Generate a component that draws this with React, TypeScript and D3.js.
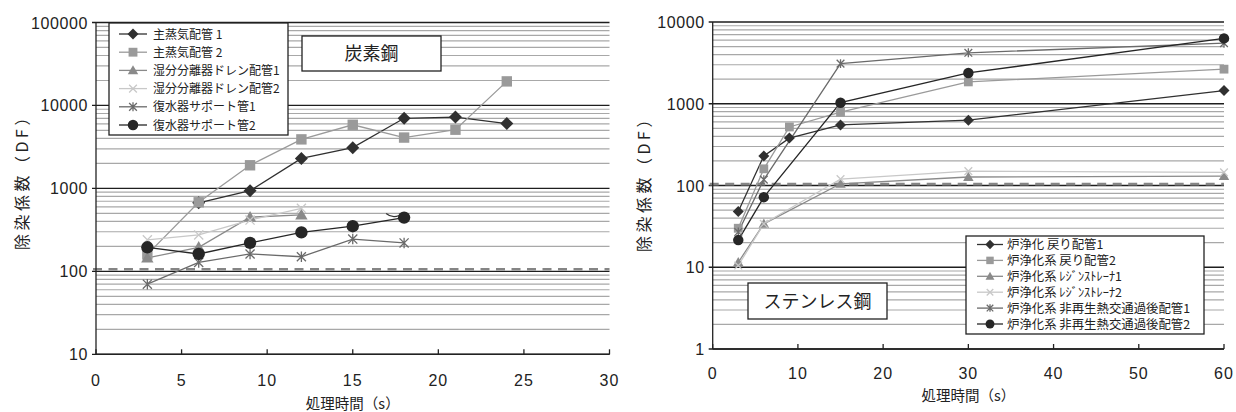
import React from 'react';
import * as d3 from 'd3';

// ---------- Left panel (炭素鋼) ----------
const csTimes = [3, 6, 9, 12, 15, 18, 21, 24];
const csMain1 = [null, 670, 940, 2300, 3100, 7000, 7250, 6050];
const csMain2 = [160, 680, 1900, 3900, 5850, 4100, 5100, 19500];
const csWet1 = [145, 195, 450, 480, null, null, null, null];
const csWet2 = [240, 275, 415, 575, null, null, null, null];
const csCond1 = [70, 128, 162, 150, 245, 220, null, null];
const csCond2 = [195, 162, 220, 295, 350, 445, null, null];
const csNames = ['主蒸気配管 1', '主蒸気配管 2', '湿分分離器ドレン配管1', '湿分分離器ドレン配管2', '復水器サポート管1', '復水器サポート管2'];
const csXTicks = [0, 5, 10, 15, 20, 25, 30];
const csYTicks = [10, 100, 1000, 10000, 100000];

// ---------- Right panel (ステンレス鋼) ----------
const ssTimes = [3, 6, 9, 15, 30, 60];
const ssRet1 = [48, 230, 380, 550, 630, 1450];
const ssRet2 = [30, 160, 520, 790, 1850, 2650];
const ssRes1 = [11.5, 34, null, 105, 127, 130];
const ssRes2 = [10.5, 34, null, 120, 150, 145];
const ssHx1 = [27, 118, null, 3100, 4200, 5500];
const ssHx2 = [21.5, 72, null, 1030, 2380, 6300];
const ssNames = ['炉浄化 戻り配管1', '炉浄化系 戻り配管2', '炉浄化系 ﾚｼﾞﾝｽﾄﾚｰﾅ1', '炉浄化系 ﾚｼﾞﾝｽﾄﾚｰﾅ2', '炉浄化系 非再生熱交通過後配管1', '炉浄化系 非再生熱交通過後配管2'];
const ssXTicks = [0, 10, 20, 30, 40, 50, 60];
const ssYTicks = [1, 10, 100, 1000, 10000];

const thresholdLeft = 106;
const thresholdRight = 104;

const markerTypes = ['diamond', 'square', 'triangle', 'x', 'asterisk', 'circle'];
const seriesColors = ['#303030', '#9a9a9a', '#8a8a8a', '#c8c8c8', '#6a6a6a', '#262626'];

const NUM_FONT = '"Liberation Sans", Arial, "Noto Sans CJK JP", sans-serif';
const JP_FONT = '"Noto Sans CJK JP", "Liberation Sans", sans-serif';

function Marker({ type, x, y, s, color }: { type: string; x: number; y: number; s: number; color: string }) {
  switch (type) {
    case 'diamond':
      return <path d={`M${x},${y - s}L${x + s},${y}L${x},${y + s}L${x - s},${y}Z`} fill={color} />;
    case 'square': {
      const h = s * 0.8;
      return <rect x={x - h} y={y - h} width={2 * h} height={2 * h} fill={color} />;
    }
    case 'triangle': {
      const h = s * 0.95;
      return <path d={`M${x},${y - h}L${x + h},${y + h * 0.75}L${x - h},${y + h * 0.75}Z`} fill={color} />;
    }
    case 'x': {
      const h = s * 0.7;
      return <path d={`M${x - h},${y - h}L${x + h},${y + h}M${x - h},${y + h}L${x + h},${y - h}`} stroke={color} strokeWidth={1.3} fill="none" />;
    }
    case 'asterisk': {
      const h = s * 0.7;
      return <path d={`M${x - h},${y - h}L${x + h},${y + h}M${x - h},${y + h}L${x + h},${y - h}M${x},${y - h * 1.15}L${x},${y + h * 1.15}`} stroke={color} strokeWidth={1.3} fill="none" />;
    }
    default:
      return <circle cx={x} cy={y} r={s * 0.95} fill={color} />;
  }
}

type PanelProps = {
  x0: number; x1: number; yTop: number; yBot: number;
  xDomain: [number, number]; yDomain: [number, number];
  xTicks: number[]; yTicks: number[];
  times: number[]; series: (number | null)[][]; names: string[];
  threshold: number; ms: number;
  legend: { x: number; y: number; w: number; h: number; y0: number; step: number; fs: number; lx0: number; lx1: number; tx: number };
  title: { x: number; y: number; w: number; h: number; text: string };
  tickBaseline: number; xLabelBaseline: number; yLabelX: number; yLabelY: number;
  arc?: boolean;
};

function Panel(p: PanelProps) {
  const x = d3.scaleLinear().domain(p.xDomain).range([p.x0, p.x1]);
  const y = d3.scaleLog().domain(p.yDomain).range([p.yBot, p.yTop]);
  const minor: number[] = [];
  for (let i = 0; i < p.yTicks.length - 1; i++) {
    for (let k = 2; k <= 9; k++) minor.push(p.yTicks[i] * k);
  }
  const line = d3.line<[number, number]>()
    .x(d => x(d[0]))
    .y(d => y(d[1]));

  const cond2 = p.series[5];
  const lastIdx = cond2.reduce((acc, v, i) => (v != null ? i : acc), 0);

  return (
    <g>
      {/* minor grid */}
      {minor.map((v, i) => (
        <line key={'m' + i} x1={p.x0} x2={p.x1} y1={y(v)} y2={y(v)} stroke="#a8a8a8" strokeWidth={1.2} />
      ))}
      {/* major grid */}
      {p.yTicks.map((v, i) => (
        <line key={'M' + i} x1={p.x0 - 4} x2={p.x1} y1={y(v)} y2={y(v)} stroke="#1e1e1e" strokeWidth={1.3} />
      ))}
      {/* threshold dashed line */}
      <line x1={p.x0 - 3} x2={p.x1} y1={y(p.threshold)} y2={y(p.threshold)} stroke="#858585" strokeWidth={2.6} strokeDasharray="9,6.5" />
      {/* axes */}
      <line x1={p.x0} x2={p.x0} y1={p.yTop} y2={p.yBot} stroke="#222" strokeWidth={1.3} />
      <line x1={p.x0} x2={p.x1} y1={p.yBot} y2={p.yBot} stroke="#222" strokeWidth={1.5} />
      {p.xTicks.map((t, i) => (
        <line key={'xt' + i} x1={x(t)} x2={x(t)} y1={p.yBot} y2={p.yBot - 5} stroke="#222" strokeWidth={1.3} />
      ))}
      {p.xTicks.map((t, i) => (
        <text key={'xl' + i} x={x(t)} y={p.tickBaseline} textAnchor="middle" fontFamily={NUM_FONT} fontSize={16} letterSpacing={1} fill="#222">{t}</text>
      ))}
      {p.yTicks.map((v, i) => (
        <text key={'yl' + i} x={p.x0 - 8} y={y(v) + 6} textAnchor="end" fontFamily={NUM_FONT} fontSize={16} letterSpacing={0.6} fill="#222">{v}</text>
      ))}
      {/* series lines (missing points are skipped, line continues) */}
      {p.series.map((s, si) => {
        const pts = p.times
          .map((t, i) => [t, s[i]] as [number, number | null])
          .filter(d => d[1] != null) as [number, number][];
        return <path key={'l' + si} d={line(pts) || ''} fill="none" stroke={seriesColors[si]} strokeWidth={1.3} />;
      })}
      {/* markers */}
      {p.series.map((s, si) => (
        <g key={'g' + si}>
          {s.map((v, i) => v == null ? null : (
            <Marker key={i} type={markerTypes[si]} x={x(p.times[i])} y={y(v)} s={p.ms} color={seriesColors[si]} />
          ))}
        </g>
      ))}
      {p.arc && cond2[lastIdx] != null && (
        <path
          d={`M${x(p.times[lastIdx]) - 18},${y(cond2[lastIdx] as number) - 4} Q${x(p.times[lastIdx]) - 12},${y(cond2[lastIdx] as number) + 1} ${x(p.times[lastIdx]) - 5},${y(cond2[lastIdx] as number) - 2}`}
          fill="none" stroke="#333" strokeWidth={1.2}
        />
      )}
      {/* legend */}
      <rect x={p.legend.x} y={p.legend.y} width={p.legend.w} height={p.legend.h} fill="#fff" stroke="#222" strokeWidth={1.3} />
      {p.names.map((n, i) => {
        const ly = p.legend.y0 + i * p.legend.step;
        return (
          <g key={'lg' + i}>
            <line x1={p.legend.lx0} x2={p.legend.lx1} y1={ly} y2={ly} stroke={seriesColors[i]} strokeWidth={1.3} />
            <Marker type={markerTypes[i]} x={(p.legend.lx0 + p.legend.lx1) / 2} y={ly} s={p.ms * 0.85} color={seriesColors[i]} />
            <text x={p.legend.tx} y={ly + p.legend.fs * 0.38} fontFamily={JP_FONT} fontSize={p.legend.fs} fill="#222">{n}</text>
          </g>
        );
      })}
      {/* title box */}
      <rect x={p.title.x} y={p.title.y} width={p.title.w} height={p.title.h} fill="#fff" stroke="#222" strokeWidth={1.3} />
      <text x={p.title.x + p.title.w / 2} y={p.title.y + p.title.h / 2 + 6.5} textAnchor="middle" fontFamily={JP_FONT} fontSize={18} fill="#222">{p.title.text}</text>
      {/* axis labels */}
      <text x={(p.x0 + p.x1) / 2} y={p.xLabelBaseline} textAnchor="middle" fontFamily={JP_FONT} fontSize={14.5} fill="#222">処理時間（s）</text>
      <text transform={`translate(${p.yLabelX},${p.yLabelY}) rotate(-90)`} textAnchor="middle" fontFamily={JP_FONT} fontSize={16} letterSpacing={3.5} fill="#222">除染係数（DF）</text>
    </g>
  );
}

export default function App() {
  return (
    <svg width={1236} height={412} style={{ position: 'absolute', left: 0, top: 0, background: '#fff' }}>
      <rect x={0} y={0} width={1236} height={412} fill="#fff" />
      <Panel
        x0={96} x1={609.5} yTop={22.5} yBot={354.3}
        xDomain={[0, 30]} yDomain={[10, 100000]}
        xTicks={csXTicks} yTicks={csYTicks}
        times={csTimes} series={[csMain1, csMain2, csWet1, csWet2, csCond1, csCond2]} names={csNames}
        threshold={thresholdLeft} ms={6.5}
        legend={{ x: 109, y: 23, w: 179, h: 112, y0: 34, step: 18.2, fs: 12, lx0: 119, lx1: 147, tx: 153 }}
        title={{ x: 302, y: 36, w: 139, h: 35, text: '炭素鋼' }}
        tickBaseline={386} xLabelBaseline={409} yLabelX={28} yLabelY={178}
        arc
      />
      <Panel
        x0={712.7} x1={1224} yTop={22} yBot={349}
        xDomain={[0, 60]} yDomain={[1, 10000]}
        xTicks={ssXTicks} yTicks={ssYTicks}
        times={ssTimes} series={[ssRet1, ssRet2, ssRes1, ssRes2, ssHx1, ssHx2]} names={ssNames}
        threshold={thresholdRight} ms={5.5}
        legend={{ x: 966, y: 236, w: 238, h: 98, y0: 244.5, step: 15.9, fs: 12.4, lx0: 977, lx1: 1003, tx: 1007 }}
        title={{ x: 748, y: 283, w: 139, h: 36, text: 'ステンレス鋼' }}
        tickBaseline={379} xLabelBaseline={401} yLabelX={650} yLabelY={180}
      />
    </svg>
  );
}
